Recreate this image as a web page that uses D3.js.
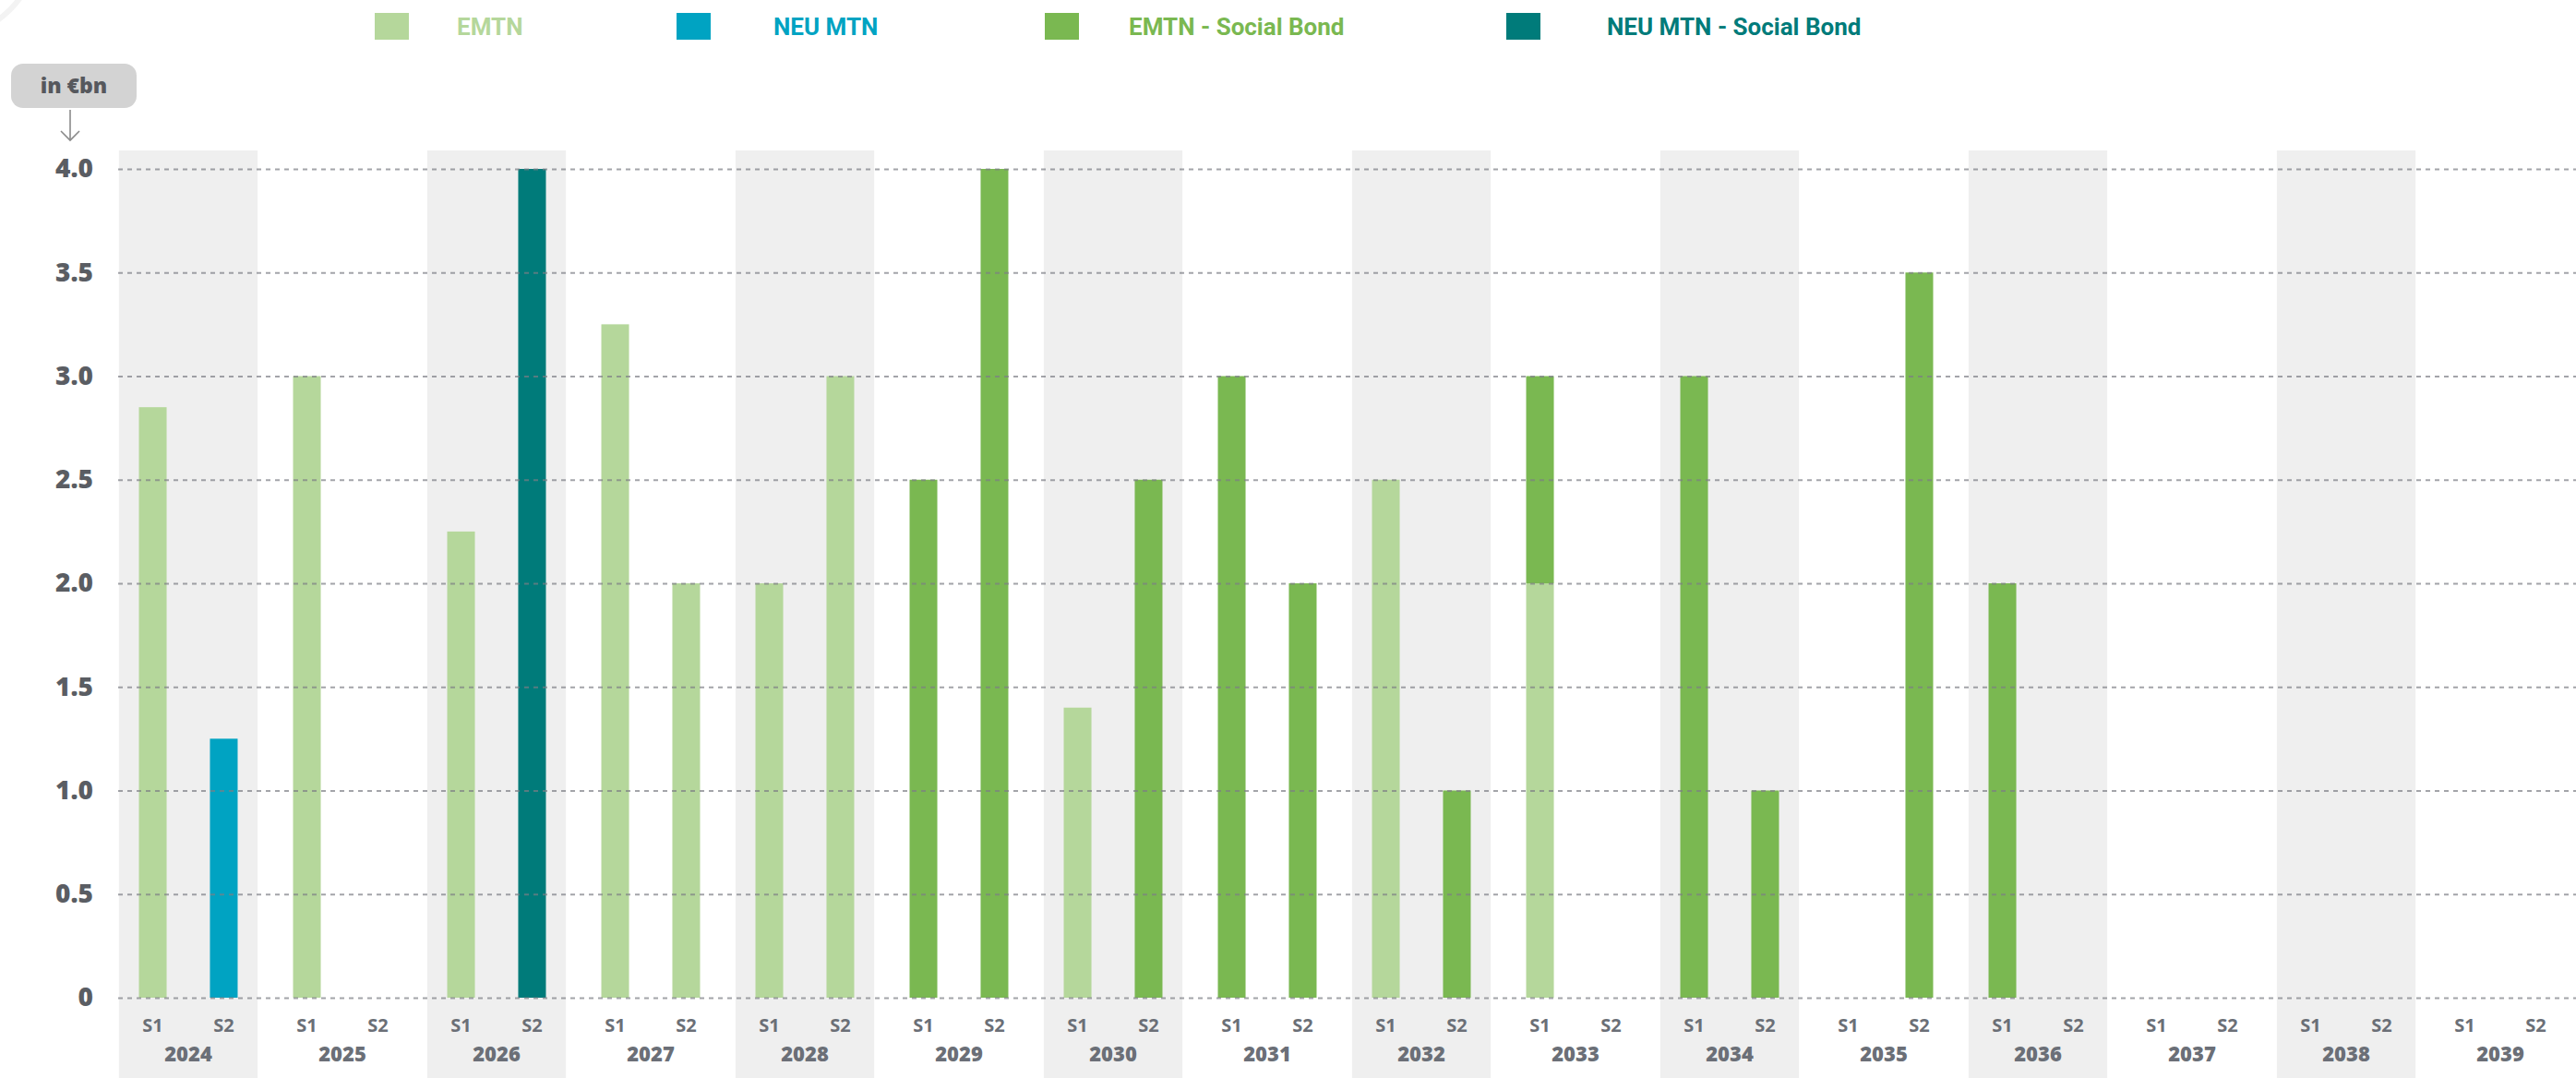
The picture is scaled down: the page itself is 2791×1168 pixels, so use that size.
<!DOCTYPE html>
<html>
<head>
<meta charset="utf-8">
<script src="https://cdn.jsdelivr.net/npm/d3@7"></script>
<style>
  html, body { margin: 0; padding: 0; background: #ffffff; }
  svg { display: block; }
</style>
</head>
<body>
<svg id="chart" width="2791" height="1168"></svg>
<script>
// ---------------- DATA ----------------
const years = [2024, 2025, 2026, 2027, 2028, 2029, 2030, 2031, 2032, 2033, 2034, 2035, 2036, 2037, 2038, 2039];
const halves = ["S1", "S2"];
const seriesNames = ["EMTN", "NEU MTN", "EMTN - Social Bond", "NEU MTN - Social Bond"];
const seriesColors = ["#b5d79b", "#00a3c2", "#7ab851", "#007b7a"];

const emtnS1       = [2.85, 3.0, 2.25, 3.25, 2.0, 0, 1.4, 0, 2.5, 2.0, 0, 0, 0, 0, 0, 0];
const emtnS2       = [0, 0, 0, 2.0, 3.0, 0, 0, 0, 0, 0, 0, 0, 0, 0, 0, 0];
const neuS1        = [0, 0, 0, 0, 0, 0, 0, 0, 0, 0, 0, 0, 0, 0, 0, 0];
const neuS2        = [1.25, 0, 0, 0, 0, 0, 0, 0, 0, 0, 0, 0, 0, 0, 0, 0];
const socialS1     = [0, 0, 0, 0, 0, 2.5, 0, 3.0, 0, 1.0, 3.0, 0, 2.0, 0, 0, 0];
const socialS2     = [0, 0, 0, 0, 0, 4.0, 2.5, 2.0, 1.0, 0, 1.0, 3.5, 0, 0, 0, 0];
const neuSocialS1  = [0, 0, 0, 0, 0, 0, 0, 0, 0, 0, 0, 0, 0, 0, 0, 0];
const neuSocialS2  = [0, 0, 4.0, 0, 0, 0, 0, 0, 0, 0, 0, 0, 0, 0, 0, 0];

const yTicks = [0, 0.5, 1.0, 1.5, 2.0, 2.5, 3.0, 3.5, 4.0];
const unitLabel = "in €bn";

// ---------------- BUILD TABLE ----------------
const bySeries = {
  "EMTN": [emtnS1, emtnS2],
  "NEU MTN": [neuS1, neuS2],
  "EMTN - Social Bond": [socialS1, socialS2],
  "NEU MTN - Social Bond": [neuSocialS1, neuSocialS2]
};
const rows = [];
years.forEach((yr, i) => {
  halves.forEach((h, j) => {
    const r = { year: yr, half: h };
    seriesNames.forEach(s => { r[s] = bySeries[s][j][i]; });
    rows.push(r);
  });
});

// ---------------- LAYOUT ----------------
const W = 2791, H = 1168;
const svg = d3.select("#chart");
const fontMain = "'Open Sans', 'DejaVu Sans', sans-serif";
const axisColor = "#5a5d63";
const xLabelColor = "#6b6f77";

const x = d3.scaleBand().domain(years).range([120.5, 2792.5]).padding(0);
const xs = d3.scaleBand().domain(halves).range([0, x.bandwidth()]).paddingInner(0.61).paddingOuter(0.39);
const y = d3.scaleLinear().domain([0, 4]).range([1081, 183]);

const color = d3.scaleOrdinal().domain(seriesNames).range(seriesColors);

// decorative faint circle at top-left corner
svg.append("circle").attr("cx", -60).attr("cy", -60).attr("r", 100)
  .attr("fill", "none").attr("stroke", "#f3f3f3").attr("stroke-width", 6);

// background bands for even-index years
svg.append("g").selectAll("rect")
  .data(years.filter((d, i) => i % 2 === 0))
  .join("rect")
  .attr("x", d => x(d) + x.bandwidth() * 0.05)
  .attr("width", x.bandwidth() * 0.9)
  .attr("y", 163)
  .attr("height", H - 163)
  .attr("fill", "#efefef");

// bars
const stack = d3.stack().keys(seriesNames);
const stacked = stack(rows);
svg.append("g").selectAll("g")
  .data(stacked)
  .join("g")
  .attr("fill", d => color(d.key))
  .selectAll("rect")
  .data(d => d.filter(p => p[1] - p[0] > 0))
  .join("rect")
  .attr("x", d => x(d.data.year) + xs(d.data.half))
  .attr("width", xs.bandwidth())
  .attr("y", d => y(d[1]))
  .attr("height", d => y(d[0]) - y(d[1]));

// gridlines (on top, dotted)
const yAxis = d3.axisLeft(y).tickValues(yTicks)
  .tickFormat(d => d === 0 ? "0" : d3.format(".1f")(d))
  .tickSize(-(W - 128)).tickPadding(27);
const gy = svg.append("g").attr("transform", "translate(128,0)").call(yAxis);
gy.select(".domain").remove();
gy.selectAll(".tick line")
  .attr("stroke", "#7c7e84")
  .attr("stroke-opacity", 0.7)
  .attr("stroke-width", 2.2)
  .attr("stroke-dasharray", "5,5");
gy.selectAll(".tick text")
  .attr("fill", axisColor)
  .attr("font-family", fontMain)
  .attr("font-weight", 800)
  .attr("font-size", 28);

// x axis: S1 / S2 labels and years
const gx = svg.append("g");
years.forEach(yr => {
  halves.forEach(h => {
    gx.append("text")
      .attr("x", x(yr) + xs(h) + xs.bandwidth() / 2)
      .attr("y", 1118)
      .attr("text-anchor", "middle")
      .attr("fill", xLabelColor)
      .attr("font-family", fontMain)
      .attr("font-weight", 700)
      .attr("font-size", 20)
      .text(h);
  });
});
const yearAxis = d3.axisBottom(x).tickSize(0).tickPadding(0);
const gyr = svg.append("g").attr("transform", "translate(0,1134)").call(yearAxis);
gyr.select(".domain").remove();
gyr.selectAll(".tick text")
  .attr("fill", xLabelColor)
  .attr("font-family", fontMain)
  .attr("font-weight", 800)
  .attr("font-size", 22)
  .attr("dy", "0.71em");

// unit badge
const badge = svg.append("g");
badge.append("rect")
  .attr("x", 12).attr("y", 69).attr("width", 136).attr("height", 48)
  .attr("rx", 13).attr("fill", "#d3d3d3");
badge.append("text")
  .attr("x", 80).attr("y", 101)
  .attr("text-anchor", "middle")
  .attr("fill", "#56585d")
  .attr("font-family", fontMain)
  .attr("font-weight", 800)
  .attr("font-size", 23)
  .text(unitLabel);
badge.append("line")
  .attr("x1", 76).attr("x2", 76).attr("y1", 119).attr("y2", 152)
  .attr("stroke", "#8a8a8a").attr("stroke-width", 1.6);
badge.append("path")
  .attr("d", "M66,142 L76,152 L86,142")
  .attr("fill", "none").attr("stroke", "#8a8a8a").attr("stroke-width", 1.6);

// legend
const legendSquareX = [406, 733, 1132, 1632];
const legendTextX = [495, 838, 1223, 1741];
const legend = svg.append("g");
seriesNames.forEach((s, i) => {
  legend.append("rect")
    .attr("x", legendSquareX[i]).attr("y", 14)
    .attr("width", 37).attr("height", 29)
    .attr("fill", color(s));
  legend.append("text")
    .attr("x", legendTextX[i]).attr("y", 38)
    .attr("fill", color(s))
    .attr("font-family", "Roboto, 'Open Sans', sans-serif")
    .attr("font-weight", 700)
    .attr("font-size", 26)
    .text(s);
});
</script>
</body>
</html>
